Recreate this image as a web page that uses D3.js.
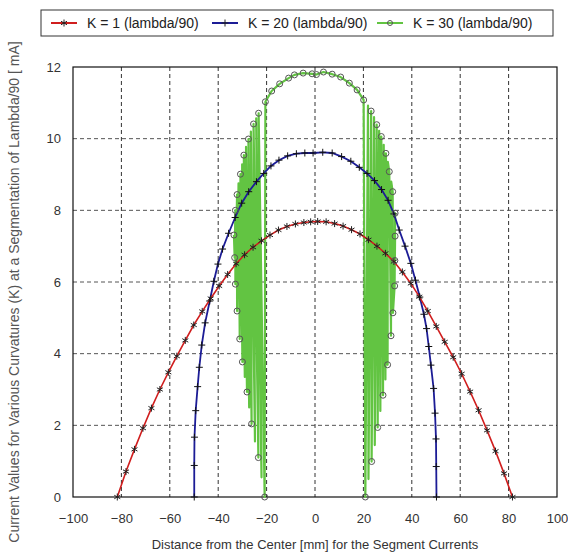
<!DOCTYPE html>
<html>
<head>
<meta charset="utf-8">
<script src="https://cdn.jsdelivr.net/npm/d3@7"></script>
<style>
  body { margin: 0; background: #fff; }
  svg { font-family: "Liberation Sans", Arial, sans-serif; }
</style>
</head>
<body>
<svg id="chart" width="568" height="554"></svg>
<script>
// K = 1 (red)
const redX = [-81.7, -78.1, -74.6, -71.1, -67.6, -64.1, -60.6, -57.1, -53.6, -50.1, -46.6, -43.1, -39.6, -36.1, -32.6,
    -29.1, -25.6, -22.1, -18.6, -15.1, -11.6, -8.1, -4.6, -1.8, 1.1, 4.6, 8.1, 11.6, 15.1, 18.6, 22.1, 25.6, 29.1,
    32.6, 36.1, 39.6, 43.1, 46.6, 50.1, 53.6, 57.1, 60.6, 64.1, 67.6, 71.1, 74.6, 78.1, 81.6];
const redY = [0, 0.71, 1.33, 1.92, 2.48, 3.0, 3.48, 3.93, 4.37, 4.8, 5.18, 5.54, 5.89, 6.21, 6.51,
    6.76, 6.97, 7.15, 7.31, 7.45, 7.55, 7.62, 7.66, 7.68, 7.69, 7.68, 7.63, 7.56, 7.46, 7.34, 7.18, 7.0, 6.8,
    6.57, 6.28, 5.96, 5.59, 5.19, 4.76, 4.33, 3.9, 3.44, 2.94, 2.42, 1.86, 1.28, 0.66, 0];

// K = 20 (blue)
const blueX = [-49.9, -49.9, -49.8, -49.3, -48.5, -47.8, -46.8, -45.4, -43.5, -41.8, -40.1, -38.2, -35.7, -33.0, -30.3,
    -27.4, -24.2, -21.2, -18.2, -14.9, -11.3, -7.7, -4.2, -0.8, 3.2, 7.1, 11.0, 14.8, 18.3, 21.5, 24.6, 27.5, 30.2,
    32.6, 34.8, 37.2, 39.6, 41.5, 43.3, 45.0, 46.1, 47.0, 47.9, 49.0, 49.6, 50.0, 50.1, 50.2];
const blueY = [0, 0.88, 1.67, 2.41, 3.08, 3.62, 4.24, 4.86, 5.47, 6.02, 6.5, 6.92, 7.36, 7.8, 8.2,
    8.52, 8.8, 9.03, 9.24, 9.4, 9.52, 9.58, 9.6, 9.6, 9.62, 9.6, 9.5, 9.37, 9.2, 9.03, 8.83, 8.58, 8.28,
    7.9, 7.45, 7.0, 6.52, 6.05, 5.58, 5.1, 4.7, 4.2, 3.68, 3.03, 2.34, 1.62, 0.85, 0];

// K = 30 (green): points in plotting order, greenMark = 1 where a circle shows
const greenX = [-33.5, -33.2, -32.9, -32.9, -32.2, -32.2, -31.6, -31.1, -30.8, -30.0, -30.1, -29.0, -29.4, -28.1,
    -28.5, -27.2, -27.5, -26.2, -26.5, -24.8, -25.4, -23.4, -24.3, -22.1, -23.3, -20.8, -20.5,
    -17.9, -14.6, -10.9, -8.5, -4.9, -1.2, 0.6, 3.5, 7.1, 10.6, 14.2, 17.4, 20.1,
    20.8, 21.9, 22.1, 23.2, 23.4, 24.4, 24.7, 25.5, 25.9, 26.5, 27.0, 27.4, 28.1, 28.4, 29.1, 29.3, 30.0,
    30.1, 30.7, 31.4, 31.5, 32.1, 32.2, 32.9, 33.1, 33.0, 33.1];
const greenY = [7.31, 6.68, 8.0, 5.94, 8.44, 5.19, 8.75, 4.41, 9.01, 3.77, 9.28, 3.35, 9.54, 2.93,
    9.77, 2.5, 9.99, 2.04, 10.2, 1.55, 10.41, 1.1, 10.57, 0.55, 10.71, 0, 11.03,
    11.33, 11.53, 11.69, 11.78, 11.83, 11.81, 11.79, 11.86, 11.8, 11.72, 11.55, 11.36, 11.08,
    0, 10.92, 0.5, 10.77, 0.99, 10.6, 1.45, 10.39, 1.94, 10.22, 2.4, 10.06, 2.84, 9.83, 3.28, 9.59, 3.69,
    9.35, 9.08, 4.5, 8.8, 8.52, 5.14, 5.89, 7.92, 6.6, 7.28];
const greenMark = [1, 1, 1, 1, 1, 1, 0, 1, 1, 1, 0, 0, 1, 1,
    0, 0, 1, 1, 0, 0, 1, 1, 0, 0, 1, 1, 1,
    1, 1, 1, 1, 1, 1, 1, 1, 1, 1, 1, 1, 1,
    1, 0, 0, 1, 1, 0, 0, 1, 1, 0, 0, 1, 1, 0, 0, 1, 1,
    0, 1, 1, 0, 1, 1, 1, 1, 1, 1];

const xTicks = [-100, -80, -60, -40, -20, 0, 20, 40, 60, 80, 100];
const yTicks = [0, 2, 4, 6, 8, 10, 12];

const seriesNames = ['K = 1 (lambda/90)', 'K = 20 (lambda/90)', 'K = 30 (lambda/90)'];
const seriesColors = ['#d01e1e', '#1c1c96', '#62c442'];

const margin = {left: 73, right: 11, top: 67, bottom: 57};
const width = 568 - margin.left - margin.right;
const height = 554 - margin.top - margin.bottom;

const svg = d3.select('#chart');
const g = svg.append('g')
    .attr('transform', `translate(${margin.left},${margin.top})`);

const x = d3.scaleLinear().domain([-100, 100]).range([0, width]);
const y = d3.scaleLinear().domain([0, 12]).range([height, 0]);

// grid
g.append('g')
    .selectAll('line')
    .data(xTicks.slice(1, -1))
    .enter().append('line')
        .attr('x1', d => x(d))
        .attr('x2', d => x(d))
        .attr('y1', 0)
        .attr('y2', height)
        .attr('stroke', '#333')
        .attr('stroke-dasharray', '4,3');

g.append('g')
    .selectAll('line')
    .data(yTicks.slice(1, -1))
    .enter().append('line')
        .attr('x1', 0)
        .attr('x2', width)
        .attr('y1', d => y(d))
        .attr('y2', d => y(d))
        .attr('stroke', '#555')
        .attr('stroke-dasharray', '4,3');

// axes
const xAxis = g.append('g')
    .attr('transform', `translate(0,${height})`)
    .call(d3.axisBottom(x).tickValues(xTicks).tickSize(0).tickPadding(17));
const yAxis = g.append('g')
    .call(d3.axisLeft(y).tickValues(yTicks).tickSize(0).tickPadding(12));

[xAxis, yAxis].forEach(a => {
    a.select('.domain').remove();
    a.selectAll('text')
        .attr('font-family', '"Liberation Sans", Arial, sans-serif')
        .attr('font-size', 13)
        .attr('fill', '#333');
});

g.append('rect')
    .attr('width', width)
    .attr('height', height)
    .attr('fill', 'none')
    .attr('stroke', '#111')
    .attr('stroke-width', 1.2);

// lines
const line = d3.line()
    .x(d => x(d[0]))
    .y(d => y(d[1]));

const redPts = redX.map((v, i) => [v, redY[i]]);
const bluePts = blueX.map((v, i) => [v, blueY[i]]);
const greenPts = greenX.map((v, i) => [v, greenY[i], greenMark[i]]);

g.append('path')
    .datum(greenPts)
    .attr('d', line)
    .attr('fill', 'none')
    .attr('stroke', seriesColors[2])
    .attr('stroke-width', 2.2)
    .attr('stroke-linejoin', 'round');

g.append('path')
    .datum(bluePts)
    .attr('d', line)
    .attr('fill', 'none')
    .attr('stroke', seriesColors[1])
    .attr('stroke-width', 1.8);

g.append('path')
    .datum(redPts)
    .attr('d', line)
    .attr('fill', 'none')
    .attr('stroke', seriesColors[0])
    .attr('stroke-width', 1.6);

// markers
const starPath = 'M0,-3.5V3.5M-3,-1.75L3,1.75M-3,1.75L3,-1.75';
const plusPath = 'M-3.5,0H3.5M0,-3.5V3.5';

g.append('g')
    .selectAll('path')
    .data(redPts)
    .enter().append('path')
        .attr('transform', d => `translate(${x(d[0])},${y(d[1])})`)
        .attr('d', starPath)
        .attr('stroke', '#222')
        .attr('stroke-width', 1);

g.append('g')
    .selectAll('path')
    .data(bluePts)
    .enter().append('path')
        .attr('transform', d => `translate(${x(d[0])},${y(d[1])})`)
        .attr('d', plusPath)
        .attr('stroke', '#111')
        .attr('stroke-width', 1);

g.append('g')
    .selectAll('circle')
    .data(greenPts.filter(d => d[2]))
    .enter().append('circle')
        .attr('cx', d => x(d[0]))
        .attr('cy', d => y(d[1]))
        .attr('r', 3)
        .attr('fill', 'none')
        .attr('stroke', '#555')
        .attr('stroke-width', 1);

// axis titles
svg.append('text')
    .attr('x', margin.left + x(0))
    .attr('y', 549)
    .attr('text-anchor', 'middle')
    .attr('font-size', 13)
    .attr('fill', '#333')
    .text('Distance from the Center [mm] for the Segment Currents');

svg.append('text')
    .attr('transform', 'translate(19,292) rotate(-90)')
    .attr('text-anchor', 'middle')
    .attr('font-size', 14)
    .attr('fill', '#555')
    .text('Current Values for Various Curvatures (K) at a Segmentation of Lambda/90 [ mA]');

// legend
const legend = svg.append('g').attr('transform', 'translate(41,10)');
legend.append('rect')
    .attr('width', 512)
    .attr('height', 26)
    .attr('fill', '#fff')
    .attr('stroke', '#333');

const legendX = [10, 171, 336];
const markerPaths = [starPath, plusPath, null];
const item = legend.selectAll('.item')
    .data(seriesNames)
    .enter().append('g')
        .attr('class', 'item')
        .attr('transform', (d, i) => `translate(${legendX[i]},13)`);

item.append('line')
    .attr('x1', 0)
    .attr('x2', 26)
    .attr('stroke', (d, i) => seriesColors[i])
    .attr('stroke-width', 2);

item.each(function(d, i) {
    const it = d3.select(this);
    if (markerPaths[i]) {
        it.append('path')
            .attr('transform', 'translate(13,0)')
            .attr('d', markerPaths[i])
            .attr('stroke', '#222');
    } else {
        it.append('circle')
            .attr('cx', 13)
            .attr('r', 2.5)
            .attr('fill', 'none')
            .attr('stroke', '#555');
    }
});

item.append('text')
    .attr('x', 36)
    .attr('dy', '0.35em')
    .attr('font-size', 14)
    .attr('fill', '#222')
    .text(d => d);
</script>
</body>
</html>
